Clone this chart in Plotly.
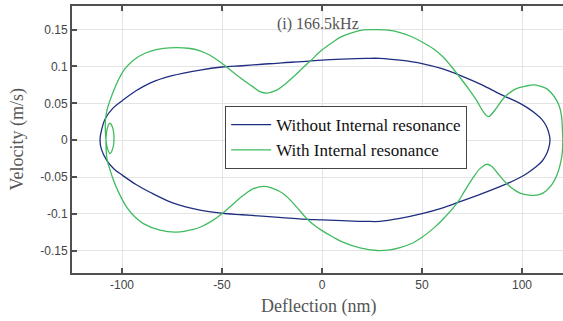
import plotly.graph_objects as go

# Without internal resonance (closed orbit: upper branch right->left, then lower branch left->right)
blue_x = [114.0, 113.3, 112.0, 110.0, 107.0, 103.0, 99.0, 93.5, 89.0, 80.0, 69.0, 60.0, 50.0,
          39.0, 29.0, 22.3, 10.0, 0.0, -10.0, -20.0, -30.0, -40.0, -50.0, -61.0, -75.0, -86.0,
          -93.0, -99.7, -104.5, -108.3, -110.3, -111.0,
          -110.3, -107.7, -104.0, -99.7, -93.0, -86.0, -75.0, -61.0, -50.0, -40.0, -30.0, -20.0, -10.0,
          0.0, 10.0, 22.3, 29.0, 39.0, 50.0, 60.0, 67.7, 80.0, 92.8, 99.0, 103.0, 107.0, 110.0,
          112.0, 113.3, 114.0]
blue_v = [0.0, 0.011, 0.020, 0.028, 0.0355, 0.0435, 0.050, 0.057, 0.0625, 0.075, 0.088, 0.097, 0.104,
          0.1085, 0.111, 0.111, 0.110, 0.1087, 0.1065, 0.105, 0.103, 0.101, 0.0993, 0.0952, 0.0875, 0.0775,
          0.067, 0.054, 0.0435, 0.0295, 0.013, 0.0,
          -0.012, -0.027, -0.039, -0.0476, -0.060, -0.0705, -0.0845, -0.0948, -0.099, -0.101, -0.103, -0.105, -0.107,
          -0.108, -0.109, -0.110, -0.110, -0.106, -0.0996, -0.092, -0.0847, -0.0725, -0.0585, -0.0505, -0.044,
          -0.036, -0.0285, -0.020, -0.011, 0.0]

# With internal resonance (upper branch right->left, small loop, lower branch left->right)
green_x = [120.4, 120.2, 119.8, 118.8, 117.3, 115.0, 112.3, 109.0, 105.7, 102.0, 99.0, 95.7, 90.7,
           86.5, 83.2, 80.7, 77.3, 73.2, 69.0, 64.8, 60.7, 55.7, 49.8, 44.0, 39.0, 34.0, 27.3,
           20.7, 14.0, 9.0, 5.7, -0.2, -6.0, -10.2, -14.3, -18.5, -22.7, -27.7, -31.0, -34.3,
           -38.5, -42.7, -47.7, -51.8, -56.0, -61.0, -66.8, -72.7, -79.3, -86.0, -91.0, -94.3,
           -98.5, -101.0, -103.5, -106.0, -107.7,
           -108.3, -108.2, -107.4, -106.0, -104.5, -104.0, -104.8, -106.2, -107.6, -108.0, -107.4,
           -106.0, -104.3, -101.8, -97.7, -93.5, -89.3, -81.0, -72.7, -64.3, -61.0, -55.2, -50.0,
           -44.3, -39.3, -34.3, -28.8, -24.3, -19.3, -13.5, -7.7, -3.5, 0.0, 5.7, 10.7, 19.0, 27.3,
           34.0, 39.0, 44.8, 50.0, 55.7, 60.7, 67.7, 71.5, 75.7, 79.0, 82.3, 84.8, 87.3, 92.8, 99.0,
           104.8, 109.0, 112.3, 115.0, 117.3, 119.0, 120.1, 120.4]
green_v = [0.0, 0.015, 0.032, 0.045, 0.054, 0.063, 0.070, 0.0735, 0.075, 0.0735, 0.0716, 0.068, 0.0566,
           0.041, 0.032, 0.0385, 0.054, 0.070, 0.085, 0.0996, 0.1125, 0.124, 0.1336, 0.1413, 0.146, 0.149, 0.150,
           0.1495, 0.145, 0.1395, 0.1336, 0.122, 0.107, 0.0965, 0.086, 0.076, 0.068, 0.064, 0.066, 0.072,
           0.080, 0.0885, 0.0993, 0.1077, 0.1152, 0.1212, 0.1247, 0.1257, 0.1245, 0.1205, 0.1145, 0.1085,
           0.097, 0.086, 0.0716, 0.054, 0.0385,
           0.026, 0.008, -0.010, -0.018, -0.010, 0.004, 0.018, 0.023, 0.013, -0.005, -0.027,
           -0.040, -0.054, -0.070, -0.0906, -0.104, -0.113, -0.122, -0.1246, -0.121, -0.118, -0.1096, -0.0996,
           -0.086, -0.0747, -0.0657, -0.0625, -0.0657, -0.0725, -0.088, -0.106, -0.116, -0.1225, -0.1315, -0.1385, -0.146, -0.1495,
           -0.1485, -0.1455, -0.140, -0.1315, -0.1195, -0.1065, -0.0847, -0.068, -0.050, -0.0385, -0.0326, -0.0353, -0.043, -0.060, -0.0716,
           -0.0747, -0.0735, -0.068, -0.060, -0.048, -0.034, -0.018, 0.0]

x_ticks = [-100, -50, 0, 50, 100]
x_labels = ["-100", "-50", "0", "50", "100"]
y_ticks = [0.15, 0.1, 0.05, 0, -0.05, -0.1, -0.15]
y_labels = ["0.15", "0.1", "0.05", "0", "-0.05", "-0.1", "-0.15"]

fig = go.Figure()
fig.add_trace(go.Scatter(x=blue_x, y=blue_v, mode="lines", name="Without Internal resonance",
                         line=dict(color="#1f2d80", width=1.3, shape="spline", smoothing=1.0)))
fig.add_trace(go.Scatter(x=green_x, y=green_v, mode="lines", name="With Internal resonance",
                         line=dict(color="#3fbb5f", width=1.3, shape="spline", smoothing=1.0)))

axis_col = "#505050"
serif = "Liberation Serif, Times New Roman, serif"
sans = "Liberation Sans, Arial, sans-serif"
fig.update_layout(
    width=563, height=321,
    margin=dict(l=72, r=0, t=6, b=48),
    paper_bgcolor="white", plot_bgcolor="white",
    showlegend=True,
    legend=dict(x=0.312, y=0.625, xanchor="left", yanchor="top",
                bgcolor="white", bordercolor="#444", borderwidth=1,
                font=dict(family=serif, size=17, color="#111"),
                itemwidth=40, tracegroupgap=0),
    xaxis=dict(range=[-125, 120.5], tickvals=x_ticks, ticktext=x_labels,
               showgrid=True, gridcolor="#e4e4e4", gridwidth=1, zeroline=False,
               showline=True, linecolor=axis_col, linewidth=2, mirror="ticks",
               ticks="inside", ticklen=5, tickcolor=axis_col, tickwidth=2,
               tickfont=dict(family=sans, size=12, color="#444")),
    yaxis=dict(range=[-0.18, 0.182], tickvals=y_ticks, ticktext=y_labels,
               showgrid=True, gridcolor="#e4e4e4", gridwidth=1, zeroline=False,
               showline=True, linecolor=axis_col, linewidth=2, mirror=False,
               ticks="inside", ticklen=5, tickcolor=axis_col, tickwidth=2,
               tickfont=dict(family=sans, size=12, color="#444")),
    annotations=[
        dict(text="(i) 166.5kHz", xref="paper", yref="paper", x=0.5, y=0.932,
             xanchor="center", yanchor="middle", showarrow=False,
             font=dict(family=serif, size=16, color="#555")),
        dict(text="Deflection (nm)", xref="paper", yref="paper", x=0.503, y=-0.125,
             xanchor="center", yanchor="middle", showarrow=False,
             font=dict(family=serif, size=18, color="#555")),
        dict(text="Velocity (m/s)", xref="paper", yref="paper", x=-0.112, y=0.5,
             xanchor="center", yanchor="middle", showarrow=False, textangle=-90,
             font=dict(family=serif, size=18, color="#555")),
    ],
)

fig.write_html("out.html")
